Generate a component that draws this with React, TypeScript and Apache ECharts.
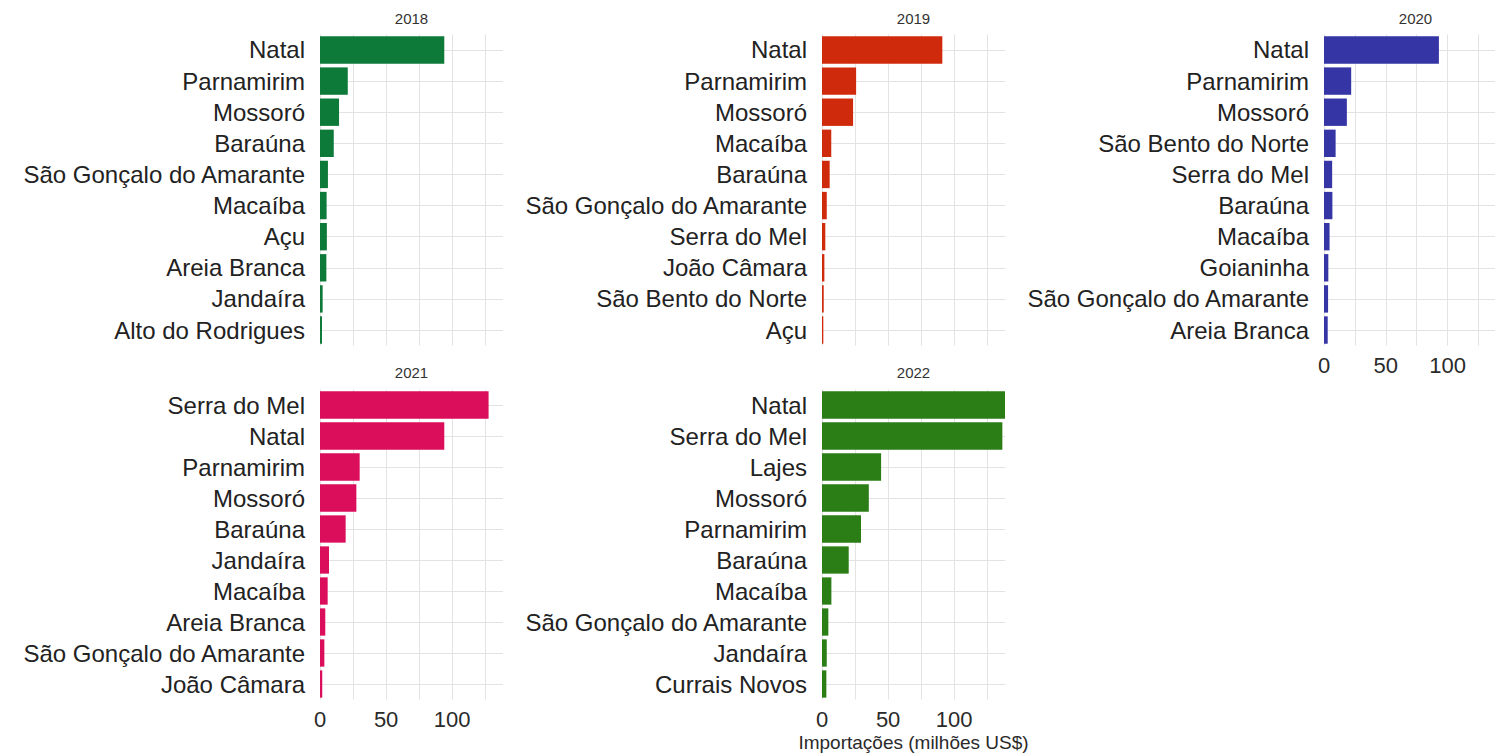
import React, { useEffect, useRef } from "react";
import * as echarts from "echarts";

const years = ["2018", "2019", "2020", "2021", "2022"];

const cats2018 = ["Natal", "Parnamirim", "Mossoró", "Baraúna", "São Gonçalo do Amarante", "Macaíba", "Açu", "Areia Branca", "Jandaíra", "Alto do Rodrigues"];
const vals2018 = [94, 21, 14.4, 10.4, 6, 5, 5.2, 4.8, 2, 1.5];

const cats2019 = ["Natal", "Parnamirim", "Mossoró", "Macaíba", "Baraúna", "São Gonçalo do Amarante", "Serra do Mel", "João Câmara", "São Bento do Norte", "Açu"];
const vals2019 = [91, 25.8, 23.5, 7, 5.8, 3.6, 2.5, 1.8, 1.3, 1];

const cats2020 = ["Natal", "Parnamirim", "Mossoró", "São Bento do Norte", "Serra do Mel", "Baraúna", "Macaíba", "Goianinha", "São Gonçalo do Amarante", "Areia Branca"];
const vals2020 = [93, 22, 18.5, 9.4, 6.6, 6.8, 4.5, 3.5, 3.3, 3];

const cats2021 = ["Serra do Mel", "Natal", "Parnamirim", "Mossoró", "Baraúna", "Jandaíra", "Macaíba", "Areia Branca", "São Gonçalo do Amarante", "João Câmara"];
const vals2021 = [127.5, 94, 30, 27.5, 19.4, 6.8, 5.8, 4, 3.3, 1.7];

const cats2022 = ["Natal", "Serra do Mel", "Lajes", "Mossoró", "Parnamirim", "Baraúna", "Macaíba", "São Gonçalo do Amarante", "Jandaíra", "Currais Novos"];
const vals2022 = [138.4, 136.4, 44.7, 35.4, 29.5, 20.2, 7.1, 4.8, 3.6, 3.3];

const xTickLabels = [0, 50, 100];
const axisTitle = "Importações (milhões US$)";

const colors = ["#0E7A3A", "#D02A0C", "#3535A5", "#DB0E5B", "#2B7D16"];

const allCats = [cats2018, cats2019, cats2020, cats2021, cats2022];
const allVals = [vals2018, vals2019, vals2020, vals2021, vals2022];

// layout (px)
const panelLefts = [320, 822, 1324, 320, 822];
const panelWidth = 183;
const panelTops = [34.4, 34.4, 34.4, 389.5, 389.5];
const panelHeights = [311.2, 311.2, 311.2, 310, 310];
const showXLabels = [false, false, true, true, true];
const titleYs = [18, 18, 18, 372, 372];

const FONT = "'Liberation Sans', Arial, Helvetica, sans-serif";

export default function App() {
  const ref = useRef<HTMLDivElement>(null);

  useEffect(() => {
    if (!ref.current) return;
    const chart = echarts.init(ref.current, undefined, { renderer: "svg" });
    const xMax = Math.max(...allVals.map((v) => Math.max(...v)));

    const grids = years.map((_, i) => ({
      left: panelLefts[i],
      top: panelTops[i],
      width: panelWidth,
      height: panelHeights[i],
      containLabel: false,
    }));

    const xAxes = years.map((_, i) => ({
      type: "value",
      gridIndex: i,
      min: 0,
      max: xMax,
      interval: 25,
      axisLine: { show: false },
      axisTick: { show: false },
      axisLabel: {
        show: showXLabels[i],
        fontSize: 22,
        color: "#2a2a2a",
        fontFamily: FONT,
        margin: 9,
        showMaxLabel: false,
        formatter: (v: number) => (xTickLabels.includes(v) ? String(v) : ""),
      },
      splitLine: { show: true, showMaxLine: false, lineStyle: { color: "#e3e3e3", width: 1 } },
      name: i === 4 ? axisTitle : "",
      nameLocation: "middle",
      nameGap: 33,
      nameTextStyle: { fontSize: 19, color: "#2a2a2a", fontFamily: FONT },
    }));

    const yAxes = years.map((_, i) => ({
      type: "category",
      gridIndex: i,
      data: allCats[i],
      inverse: true,
      axisLine: { show: false },
      axisTick: { show: false },
      splitLine: { show: false },
      axisLabel: { interval: 0, fontSize: 24, color: "#222222", fontFamily: FONT, margin: 15 },
    }));

    const series = years.map((_, i) => ({
      type: "bar",
      xAxisIndex: i,
      yAxisIndex: i,
      data: allVals[i],
      barCategoryGap: "12%",
      itemStyle: { color: colors[i] },
      z: 2,
      markLine: {
        silent: true,
        z: 1,
        symbol: "none",
        label: { show: false },
        lineStyle: { color: "#e3e3e3", width: 1, type: "solid" },
        data: allCats[i].map((c) => ({ yAxis: c })),
      },
    }));

    const graphics = years.map((y, i) => ({
      type: "text",
      x: panelLefts[i] + panelWidth / 2,
      y: titleYs[i],
      style: {
        text: y,
        fontSize: 15,
        fill: "#333333",
        fontFamily: FONT,
        textAlign: "center",
        textVerticalAlign: "middle",
      },
    }));

    chart.setOption({
      animation: false,
      backgroundColor: "#ffffff",
      grid: grids,
      xAxis: xAxes,
      yAxis: yAxes,
      series,
      graphic: graphics,
    } as any);

    return () => chart.dispose();
  }, []);

  return (
    <div
      ref={ref}
      style={{ position: "absolute", left: 0, top: 0, width: 1495, height: 753, background: "#fff" }}
    />
  );
}
